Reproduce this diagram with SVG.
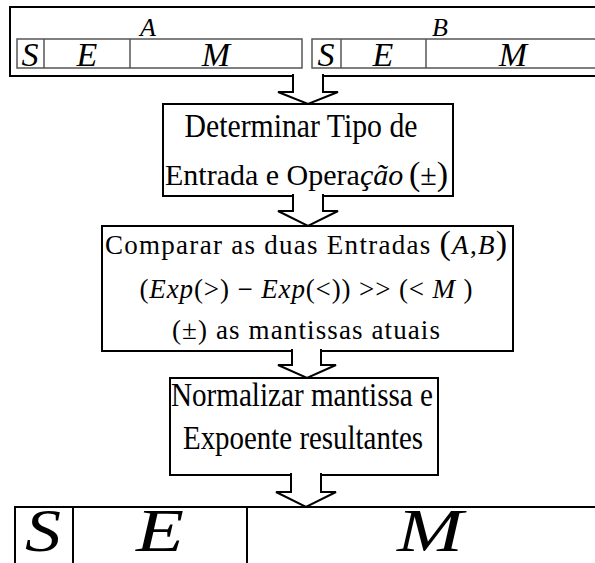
<svg xmlns="http://www.w3.org/2000/svg" width="595" height="563" viewBox="0 0 595 563">
<style>
  .box { fill: #fff; stroke: #000; stroke-width: 2; }
  .reg { fill: #fff; stroke: #555; stroke-width: 1.5; }
  .div { stroke: #555; stroke-width: 1.5; }
  .div2 { stroke: #000; stroke-width: 2; }
  .arrow { fill: #fff; stroke: #000; stroke-width: 2; stroke-linejoin: miter; }
  text { font-family: "Liberation Serif", "Times New Roman", serif; fill: #000; }
  .lbl { font-size: 33px; text-anchor: middle; }
  .lbls { font-size: 30px; text-anchor: start; }
  .lbl2 { font-size: 27px; text-anchor: middle; }
  .it { font-style: italic; }
  .reglet { font-size: 34px; font-style: italic; text-anchor: middle; }
  .biglet { font-size: 62px; font-style: italic; text-anchor: middle; }
</style>

<g id="inputs">
  <rect class="box" x="10" y="7" width="600" height="69"/>
  <text x="148" y="36" class="it" font-size="26" text-anchor="middle">A</text>
  <text x="440" y="36" class="it" font-size="26" text-anchor="middle">B</text>
  <g id="regA">
    <rect class="reg" x="17" y="39" width="285" height="29"/>
    <line class="div" x1="44" y1="39" x2="44" y2="68"/>
    <line class="div" x1="130" y1="39" x2="130" y2="68"/>
    <text class="reglet" x="30" y="66">S</text>
    <text class="reglet" x="87" y="66">E</text>
    <text class="reglet" x="216" y="66">M</text>
  </g>
  <g id="regB">
    <rect class="reg" x="312" y="39" width="300" height="29"/>
    <line class="div" x1="341" y1="39" x2="341" y2="68"/>
    <line class="div" x1="426" y1="39" x2="426" y2="68"/>
    <text class="reglet" x="326" y="66">S</text>
    <text class="reglet" x="383" y="66">E</text>
    <text class="reglet" x="513" y="66">M</text>
  </g>
</g>

<g id="step1">
  <rect class="box" x="163" y="104" width="290" height="92"/>
  <text class="lbl" x="301" y="137" textLength="233" lengthAdjust="spacingAndGlyphs">Determinar Tipo de</text>
  <text class="lbls" x="165" y="185">Entrada e Opera<tspan class="it">ção</tspan></text>
  <text class="lbls" x="409" y="185"><tspan font-size="34">(</tspan>±<tspan font-size="34">)</tspan></text>
</g>

<g id="step2">
  <rect class="box" x="102" y="226" width="411" height="125"/>
  <text class="lbl2" x="306" y="254" textLength="402">Comparar as duas Entradas <tspan font-size="34">(</tspan><tspan class="it">A</tspan>,<tspan class="it">B</tspan><tspan font-size="34">)</tspan></text>
  <text class="lbl2" x="306" y="298" textLength="333">(<tspan class="it">Exp</tspan>(&gt;) − <tspan class="it">Exp</tspan>(&lt;)) &gt;&gt; (&lt; <tspan class="it">M</tspan> )</text>
  <text class="lbl2" x="306" y="339" textLength="268">(±) as mantissas atuais</text>
</g>

<g id="step3">
  <rect class="box" x="170" y="378" width="268" height="97"/>
  <text class="lbl" x="302" y="406" textLength="262" lengthAdjust="spacingAndGlyphs">Normalizar mantissa e</text>
  <text class="lbl" x="303" y="449" textLength="240" lengthAdjust="spacingAndGlyphs">Expoente resultantes</text>
</g>

<g id="result">
  <rect class="box" x="15" y="507" width="600" height="70"/>
  <line class="div2" x1="73" y1="507" x2="73" y2="563"/>
  <line class="div2" x1="247" y1="507" x2="247" y2="563"/>
  <text class="biglet" x="43" y="551" textLength="36" lengthAdjust="spacingAndGlyphs">S</text>
  <text class="biglet" x="160" y="551" textLength="48" lengthAdjust="spacingAndGlyphs">E</text>
  <text class="biglet" x="430" y="551" textLength="66" lengthAdjust="spacingAndGlyphs">M</text>
</g>

<g id="connectors">
  <path class="arrow" d="M293,74 V92 H278 L308,104 L338,92 H323 V74"/>
  <path class="arrow" d="M293,194 V211 H278 L308,226 L338,211 H323 V194"/>
  <path class="arrow" d="M292,349 V365 H278 L307,378 L336,365 H321 V349"/>
  <path class="arrow" d="M291,473 V492 H276 L306,507 L336,492 H321 V473"/>
</g>
</svg>
